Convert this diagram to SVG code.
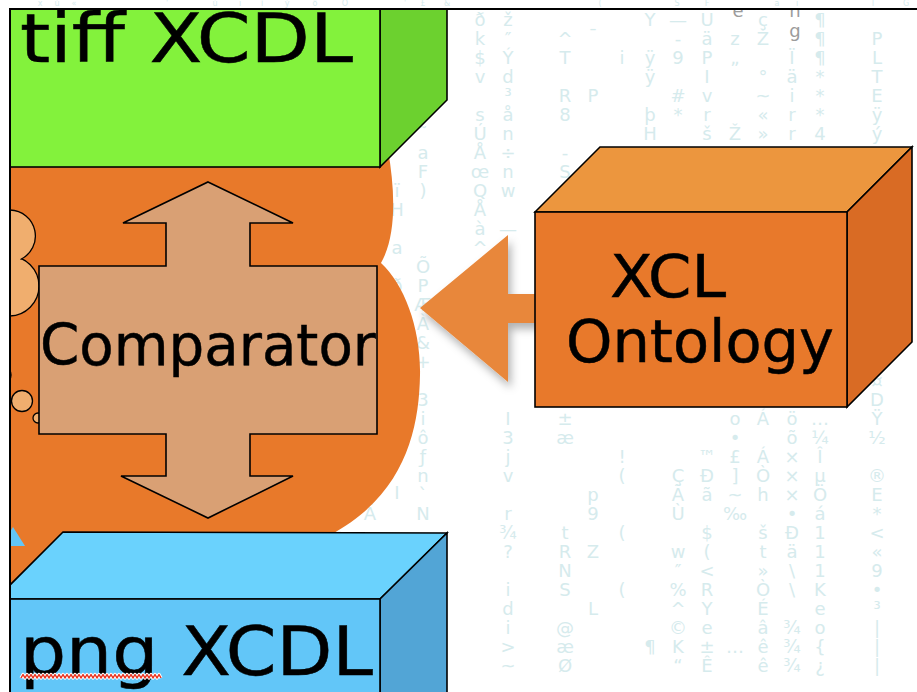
<svg xmlns="http://www.w3.org/2000/svg" width="917" height="692" viewBox="0 0 917 692">
  <defs>
    <clipPath id="slide">
      <rect x="10" y="9" width="920" height="700"/>
    </clipPath>
    <filter id="soft-shadow" x="-30%" y="-30%" width="160%" height="170%">
      <feDropShadow dx="3" dy="6" stdDeviation="4" flood-color="#000" flood-opacity="0.3"/>
    </filter>
    <style>
      .m { font-family: "DejaVu Sans", "Liberation Sans", sans-serif; font-size: 18px; fill: #D6EBED; text-anchor: middle; }
      .t { font-family: "DejaVu Sans", "Liberation Sans", sans-serif; font-size: 8px; fill: #D6EBED; text-anchor: middle; }
      .g { font-family: "DejaVu Sans", "Liberation Sans", sans-serif; font-size: 18px; fill: #9C9C9C; text-anchor: middle; }
      .lbl { font-family: "DejaVu Sans", "Verdana", sans-serif; fill: #000; stroke: #000; stroke-width: 0.5; }
      .edge { stroke: #000; stroke-width: 1.6; stroke-linejoin: miter; }
      .thin { stroke: #000; stroke-width: 1.3; }
    </style>
  </defs>

  <rect width="917" height="692" fill="#FFFFFF"/>

  <!-- faint glyph rain in the background -->
  <g id="background-glyphs">
    <text class="t"><tspan x="40" y="6">x</tspan><tspan x="57" y="6">ù</tspan><tspan x="74" y="6">«</tspan><tspan x="167" y="6">'</tspan><tspan x="215" y="6">ù</tspan><tspan x="240" y="6">ı</tspan><tspan x="262" y="6">ì</tspan><tspan x="287" y="6">ý</tspan><tspan x="315" y="6">ô</tspan><tspan x="345" y="6">Ö</tspan><tspan x="405" y="6">'</tspan><tspan x="423" y="6">£</tspan><tspan x="447" y="6">&amp;</tspan><tspan x="600" y="6">(</tspan><tspan x="677" y="6">S</tspan><tspan x="707" y="6">F</tspan><tspan x="777" y="6">a</tspan><tspan x="797" y="6">ï</tspan><tspan x="873" y="6">I</tspan><tspan x="906" y="6">G</tspan></text>
    <text class="m"><tspan x="370" y="520">Ã</tspan></text>
    <text class="m"><tspan x="397" y="197">ï</tspan><tspan x="397" y="216">H</tspan><tspan x="397" y="254">a</tspan><tspan x="397" y="292">ð</tspan><tspan x="397" y="463">‖</tspan><tspan x="397" y="499">I</tspan></text>
    <text class="m"><tspan x="423" y="140">˜</tspan><tspan x="423" y="159">a</tspan><tspan x="423" y="178">F</tspan><tspan x="423" y="197">)</tspan><tspan x="423" y="273">Õ</tspan><tspan x="423" y="292">P</tspan><tspan x="423" y="311">Æ</tspan><tspan x="423" y="330">À</tspan><tspan x="423" y="349">&amp;</tspan><tspan x="423" y="368">+</tspan><tspan x="423" y="406">3</tspan><tspan x="423" y="425">i</tspan><tspan x="423" y="444">ô</tspan><tspan x="423" y="463">ƒ</tspan><tspan x="423" y="482">n</tspan><tspan x="423" y="501">`</tspan><tspan x="423" y="520">N</tspan></text>
    <text class="m"><tspan x="480" y="26">ð</tspan><tspan x="480" y="45">k</tspan><tspan x="480" y="64">$</tspan><tspan x="480" y="83">v</tspan><tspan x="480" y="121">s</tspan><tspan x="480" y="140">Ú</tspan><tspan x="480" y="159">Å</tspan><tspan x="480" y="178">œ</tspan><tspan x="480" y="197">Q</tspan><tspan x="480" y="216">Å</tspan><tspan x="480" y="235">à</tspan><tspan x="480" y="254">^</tspan></text>
    <text class="m"><tspan x="508" y="26">ž</tspan><tspan x="508" y="45">″</tspan><tspan x="508" y="64">Ý</tspan><tspan x="508" y="83">d</tspan><tspan x="508" y="102">³</tspan><tspan x="508" y="121">å</tspan><tspan x="508" y="140">n</tspan><tspan x="508" y="159">÷</tspan><tspan x="508" y="178">n</tspan><tspan x="508" y="197">w</tspan><tspan x="508" y="235">—</tspan><tspan x="508" y="425">I</tspan><tspan x="508" y="444">3</tspan><tspan x="508" y="463">j</tspan><tspan x="508" y="482">v</tspan><tspan x="508" y="520">r</tspan><tspan x="508" y="539">¾</tspan><tspan x="508" y="558">?</tspan><tspan x="508" y="596">i</tspan><tspan x="508" y="615">d</tspan><tspan x="508" y="634">i</tspan><tspan x="508" y="653">&gt;</tspan><tspan x="508" y="672">~</tspan></text>
    <text class="m"><tspan x="565" y="45">^</tspan><tspan x="565" y="64">T</tspan><tspan x="565" y="102">R</tspan><tspan x="565" y="121">8</tspan><tspan x="565" y="159">-</tspan><tspan x="565" y="178">S</tspan><tspan x="565" y="425">±</tspan><tspan x="565" y="444">æ</tspan><tspan x="565" y="539">t</tspan><tspan x="565" y="558">R</tspan><tspan x="565" y="577">N</tspan><tspan x="565" y="596">S</tspan><tspan x="565" y="634">@</tspan><tspan x="565" y="653">æ</tspan><tspan x="565" y="672">Ø</tspan></text>
    <text class="m"><tspan x="593" y="42">¯</tspan><tspan x="593" y="102">P</tspan><tspan x="593" y="501">p</tspan><tspan x="593" y="520">9</tspan><tspan x="593" y="558">Z</tspan><tspan x="593" y="615">L</tspan></text>
    <text class="m"><tspan x="622" y="64">i</tspan><tspan x="622" y="463">!</tspan><tspan x="622" y="482">(</tspan><tspan x="622" y="539">(</tspan><tspan x="622" y="596">(</tspan></text>
    <text class="m"><tspan x="650" y="26">Y</tspan><tspan x="650" y="64">ÿ</tspan><tspan x="650" y="83">ÿ</tspan><tspan x="650" y="121">þ</tspan><tspan x="650" y="140">H</tspan><tspan x="650" y="653">¶</tspan></text>
    <text class="m"><tspan x="678" y="26">—</tspan><tspan x="678" y="45">-</tspan><tspan x="678" y="64">9</tspan><tspan x="678" y="102">#</tspan><tspan x="678" y="121">*</tspan><tspan x="678" y="482">Ç</tspan><tspan x="678" y="501">Ã</tspan><tspan x="678" y="520">Ù</tspan><tspan x="678" y="558">w</tspan><tspan x="678" y="577">″</tspan><tspan x="678" y="596">%</tspan><tspan x="678" y="615">^</tspan><tspan x="678" y="634">©</tspan><tspan x="678" y="653">K</tspan><tspan x="678" y="672">“</tspan></text>
    <text class="m"><tspan x="707" y="26">U</tspan><tspan x="707" y="45">ä</tspan><tspan x="707" y="64">P</tspan><tspan x="707" y="83">I</tspan><tspan x="707" y="102">v</tspan><tspan x="707" y="121">r</tspan><tspan x="707" y="140">š</tspan><tspan x="707" y="463">™</tspan><tspan x="707" y="482">Ð</tspan><tspan x="707" y="501">ã</tspan><tspan x="707" y="539">$</tspan><tspan x="707" y="558">(</tspan><tspan x="707" y="577">&lt;</tspan><tspan x="707" y="596">R</tspan><tspan x="707" y="615">Y</tspan><tspan x="707" y="634">e</tspan><tspan x="707" y="653">±</tspan><tspan x="707" y="672">Ê</tspan></text>
    <text class="m"><tspan x="735" y="45">z</tspan><tspan x="735" y="64">„</tspan><tspan x="735" y="140">Ž</tspan><tspan x="735" y="425">o</tspan><tspan x="735" y="444">•</tspan><tspan x="735" y="463">£</tspan><tspan x="735" y="482">]</tspan><tspan x="735" y="501">~</tspan><tspan x="735" y="520">‰</tspan><tspan x="735" y="653">…</tspan></text>
    <text class="m"><tspan x="763" y="26">ç</tspan><tspan x="763" y="45">Ž</tspan><tspan x="763" y="83">°</tspan><tspan x="763" y="102">~</tspan><tspan x="763" y="121">«</tspan><tspan x="763" y="140">»</tspan><tspan x="763" y="425">Á</tspan><tspan x="763" y="463">Á</tspan><tspan x="763" y="482">Ò</tspan><tspan x="763" y="501">h</tspan><tspan x="763" y="539">š</tspan><tspan x="763" y="558">t</tspan><tspan x="763" y="577">»</tspan><tspan x="763" y="596">Ò</tspan><tspan x="763" y="615">É</tspan><tspan x="763" y="634">â</tspan><tspan x="763" y="653">ê</tspan><tspan x="763" y="672">ê</tspan></text>
    <text class="m"><tspan x="792" y="64">Ï</tspan><tspan x="792" y="83">ä</tspan><tspan x="792" y="102">i</tspan><tspan x="792" y="121">r</tspan><tspan x="792" y="140">r</tspan><tspan x="792" y="425">ö</tspan><tspan x="792" y="444">õ</tspan><tspan x="792" y="463">×</tspan><tspan x="792" y="482">×</tspan><tspan x="792" y="501">×</tspan><tspan x="792" y="520">•</tspan><tspan x="792" y="539">Ð</tspan><tspan x="792" y="558">ä</tspan><tspan x="792" y="577">\</tspan><tspan x="792" y="596">\</tspan><tspan x="792" y="634">¾</tspan><tspan x="792" y="653">¾</tspan><tspan x="792" y="672">¾</tspan></text>
    <text class="m"><tspan x="820" y="26">¶</tspan><tspan x="820" y="45">¶</tspan><tspan x="820" y="64">¶</tspan><tspan x="820" y="83">*</tspan><tspan x="820" y="102">*</tspan><tspan x="820" y="121">*</tspan><tspan x="820" y="140">4</tspan><tspan x="820" y="425">…</tspan><tspan x="820" y="444">¼</tspan><tspan x="820" y="463">Î</tspan><tspan x="820" y="482">µ</tspan><tspan x="820" y="501">Ö</tspan><tspan x="820" y="520">á</tspan><tspan x="820" y="539">1</tspan><tspan x="820" y="558">1</tspan><tspan x="820" y="577">1</tspan><tspan x="820" y="596">K</tspan><tspan x="820" y="615">e</tspan><tspan x="820" y="634">o</tspan><tspan x="820" y="653">{</tspan><tspan x="820" y="672">¿</tspan></text>
    <text class="m"><tspan x="877" y="45">P</tspan><tspan x="877" y="64">L</tspan><tspan x="877" y="83">T</tspan><tspan x="877" y="102">E</tspan><tspan x="877" y="121">ÿ</tspan><tspan x="877" y="140">ý</tspan><tspan x="877" y="387">¤</tspan><tspan x="877" y="406">D</tspan><tspan x="877" y="425">Ÿ</tspan><tspan x="877" y="444">½</tspan><tspan x="877" y="482">®</tspan><tspan x="877" y="501">E</tspan><tspan x="877" y="520">*</tspan><tspan x="877" y="539">&lt;</tspan><tspan x="877" y="558">«</tspan><tspan x="877" y="577">9</tspan><tspan x="877" y="596">•</tspan><tspan x="877" y="615">³</tspan><tspan x="877" y="634">|</tspan><tspan x="877" y="653">|</tspan><tspan x="877" y="672">|</tspan></text>
  </g>

  <g clip-path="url(#slide)">
    <!-- grey letters of a vertical word near the top edge -->
    <text class="g"><tspan x="738" y="17">e</tspan><tspan x="795" y="17">n</tspan><tspan x="795" y="37">g</tspan></text>

    <!-- big orange thought cloud behind the comparator -->
    <g id="cloud">
      <path d="M10,150 L388,150 C395,190 397,235 381,263 C405,285 421,330 420,375 C419,430 405,495 330,535 L300,560 L10,610 Z" fill="#E8792A"/>
      <circle cx="9" cy="286" r="30" fill="#F0AE6E" class="thin"/>
      <circle cx="9" cy="236" r="26" fill="#F0AE6E"/>
      <path d="M10,210 A26,26 0 0 1 20.5,259.5" fill="none" class="thin"/>
      <circle cx="2" cy="375" r="9" fill="#F0AE6E" class="thin"/>
      <circle cx="22" cy="401" r="10.5" fill="#F0AE6E" class="thin"/>
      <circle cx="38" cy="418" r="5" fill="#F0AE6E" class="thin"/>
      <polygon points="13,527 25,546 10,546 10,532" fill="#62C6F7"/>
    </g>

    <!-- comparator: rectangle with up/down arrows -->
    <g id="comparator">
      <path d="M208,182 L293,223 L250,223 L250,266 L377,266 L377,434 L250,434 L250,476 L293,476 L208,518 L121,476 L166,476 L166,434 L39,434 L39,266 L166,266 L166,223 L123,223 Z" fill="#D9A074" class="edge"/>
      <text class="lbl" x="40" y="365" font-size="57" textLength="336" lengthAdjust="spacingAndGlyphs">Comparator</text>
    </g>

    <!-- tiff XCDL block -->
    <g id="tiff-xcdl">
      <polygon points="380,167 447,100 447,-120 380,-50" fill="#6CD12F" class="edge"/>
      <rect x="-10" y="-60" width="390" height="227" fill="#83F23C" class="edge"/>
      <text class="lbl" x="20" y="62" font-size="68" textLength="333" lengthAdjust="spacingAndGlyphs">tiff XCDL</text>
    </g>

    <!-- png XCDL block -->
    <g id="png-xcdl">
      <polygon points="63,532 447,533 380,599 -4,599" fill="#6AD2FD" class="edge"/>
      <polygon points="380,599 447,533 447,760 380,760" fill="#52A5D6" class="edge"/>
      <rect x="-10" y="599" width="390" height="160" fill="#62C6F8" class="edge"/>
      <text class="lbl" x="20" y="675" font-size="68" textLength="353" lengthAdjust="spacingAndGlyphs">png XCDL</text>
      <path d="M21,678 l2,-3.5 2,3.5 2,-3.5 2,3.5 2,-3.5 2,3.5 2,-3.5 2,3.5 2,-3.5 2,3.5 2,-3.5 2,3.5 2,-3.5 2,3.5 2,-3.5 2,3.5 2,-3.5 2,3.5 2,-3.5 2,3.5 2,-3.5 2,3.5 2,-3.5 2,3.5 2,-3.5 2,3.5 2,-3.5 2,3.5 2,-3.5 2,3.5 2,-3.5 2,3.5 2,-3.5 2,3.5 2,-3.5 2,3.5 2,-3.5 2,3.5 2,-3.5 2,3.5 2,-3.5 2,3.5 2,-3.5 2,3.5 2,-3.5 2,3.5 2,-3.5 2,3.5 2,-3.5 2,3.5 2,-3.5 2,3.5 2,-3.5 2,3.5 2,-3.5 2,3.5 2,-3.5 2,3.5 2,-3.5 2,3.5 2,-3.5 2,3.5 2,-3.5 2,3.5 2,-3.5 2,3.5 2,-3.5 2,3.5 2,-3.5 2,3.5" fill="none" stroke="#FFFFFF" stroke-width="3.4" stroke-linejoin="round"/>
      <path d="M21,678 l2,-3.5 2,3.5 2,-3.5 2,3.5 2,-3.5 2,3.5 2,-3.5 2,3.5 2,-3.5 2,3.5 2,-3.5 2,3.5 2,-3.5 2,3.5 2,-3.5 2,3.5 2,-3.5 2,3.5 2,-3.5 2,3.5 2,-3.5 2,3.5 2,-3.5 2,3.5 2,-3.5 2,3.5 2,-3.5 2,3.5 2,-3.5 2,3.5 2,-3.5 2,3.5 2,-3.5 2,3.5 2,-3.5 2,3.5 2,-3.5 2,3.5 2,-3.5 2,3.5 2,-3.5 2,3.5 2,-3.5 2,3.5 2,-3.5 2,3.5 2,-3.5 2,3.5 2,-3.5 2,3.5 2,-3.5 2,3.5 2,-3.5 2,3.5 2,-3.5 2,3.5 2,-3.5 2,3.5 2,-3.5 2,3.5 2,-3.5 2,3.5 2,-3.5 2,3.5 2,-3.5 2,3.5 2,-3.5 2,3.5 2,-3.5 2,3.5" fill="none" stroke="#E8321E" stroke-width="1.5" stroke-linejoin="round"/>
    </g>

    <!-- connector: ontology feeds the comparator -->
    <g id="connectors">
      <polygon points="420,308 508,235 508,294 540,294 540,323 508,323 508,382" fill="#E8873A" filter="url(#soft-shadow)"/>
    </g>

    <!-- XCL Ontology block -->
    <g id="xcl-ontology">
      <polygon points="535,212 600,147 912,147 847,212" fill="#EC963E" class="edge"/>
      <polygon points="847,212 912,147 912,342 847,407" fill="#D96B24" class="edge"/>
      <rect x="535" y="212" width="312" height="195" fill="#E8792B" class="edge"/>
      <text class="lbl" x="610" y="297" font-size="58" textLength="116" lengthAdjust="spacingAndGlyphs">XCL</text>
      <text class="lbl" x="566" y="362" font-size="58" textLength="268" lengthAdjust="spacingAndGlyphs">Ontology</text>
    </g>
  </g>

  <!-- slide frame -->
  <g id="frame" stroke="#000" stroke-width="2" fill="none">
    <line x1="9" y1="9" x2="917" y2="9"/>
    <line x1="10" y1="9" x2="10" y2="692"/>
  </g>
</svg>
